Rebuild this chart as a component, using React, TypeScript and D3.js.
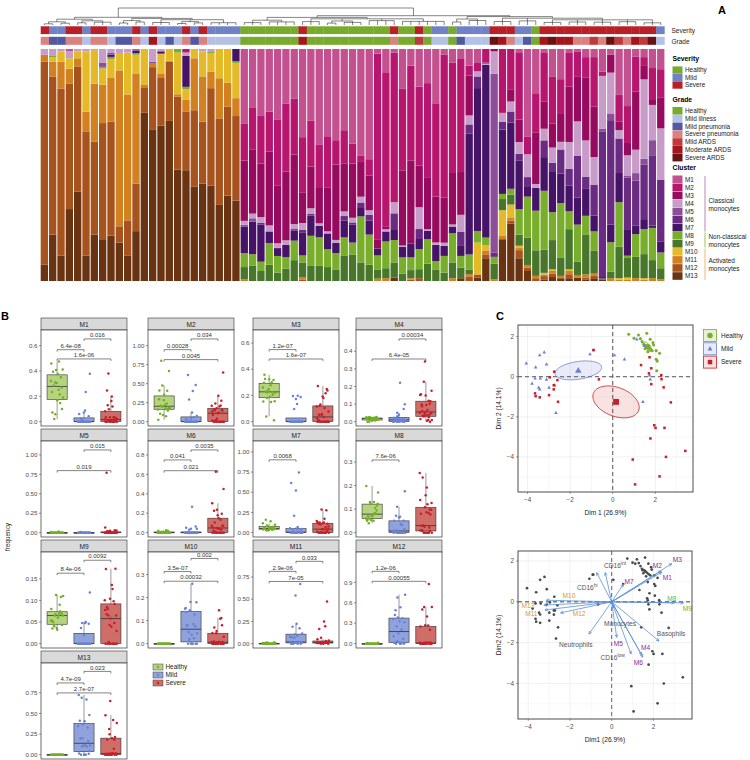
import React from "react";
import * as d3 from "d3";

// ================= DATA =================
const CLUSTERS = ["M1","M2","M3","M4","M5","M6","M7","M8","M9","M10","M11","M12","M13"];
const CLUSTER_COLORS = ["#c4518f","#b7166f","#960b5f","#c79cc8","#8c4e98","#6a2c83","#461467","#79ad2c","#48772b","#e5ba28","#d28020","#a6531e","#6a3413"];
const CLUSTER_GROUPS = [
  { lines: ["Classical", "monocytes"], from: 0, to: 6, color: "#c9a2cc" },
  { lines: ["Non-classical", "monocytes"], from: 7, to: 8, color: "#afd184" },
  { lines: ["Activated", "monocytes"], from: 9, to: 12, color: "#f0c894" },
];
const SEVERITY = ["Healthy", "Mild", "Severe"];
const SEVERITY_COLORS = ["#78ab2d", "#7181c5", "#b81f26"];
const GRADES = ["Healthy", "Mild illness", "Mild pneumonia", "Severe pneumonia", "Mild ARDS", "Moderate ARDS", "Severe ARDS"];
const GRADE_COLORS = ["#78ab2d", "#b3c1e7", "#5158a4", "#da8280", "#bf3a3d", "#a5161c", "#6a1111"];
const GRADE_SEVERITY = [0, 1, 1, 2, 2, 2, 2];

const SAMPLE_GRADE = [3,2,2,3,3,1,3,3,1,2,2,3,1,5,1,2,1,3,2,3,1,1,1,1,
  0,0,0,0,0,0,0,5,0,0,0,0,0,0,0,0,0,0,3,0,0,4,0,1,1,0,2,1,1,1,6,5,3,1,2,0,5,6,5,5,3,3,4,3,6,4,3,5,4,6,1];

// cluster composition per sample (M1..M13, %)
const COMPOSITION: number[][] = [
  [0,0,0,2.5,0,0,0,0,0,0,3,87.5,7],
  [0,0,0,3,0,0,0,0.5,0,2,6.5,68,20],
  [0,0,0,1,0,0,0,0,0,4.5,11.5,72,11],
  [1,0,0,3,0,0,0,0,0,4.5,6.5,54,31],
  [0,0,0,1,0,0,0,0,0,3,3.5,54,38.5],
  [0,0,0,1,0,0,0,0,0,26,8.5,53.5,11],
  [0,0,0,0.5,0,0,0,0,0,14.5,25,40,20],
  [0,0,0,6,1.7,0,0,0.7,0,7,16.5,50,18],
  [0,0,0,1.7,0.7,0,1,1,0,7.8,19,49,19.5],
  [0,0,0,1.7,0,0,0,0,0,7.5,67,7,16.5],
  [0,0,0,1.5,0,0,0,0,0,18,54,15,11],
  [0.6,0,0,0,0,0,1.2,0.7,0,8,47.5,20.5,21.5],
  [0,0,0,0,0,0,0,0,0,15.5,1,11,72.5],
  [0,0,0,5.5,0.8,0,0,0,0,0,1.5,27,65],
  [0,0,0,1,0,0,1,0,0,8.5,2,20.5,67],
  [0,0,0,0,0,0,0,0,0,5,0.5,25.5,69],
  [0,0,0,0,0,0,0,1.5,0,18,1,31.5,48],
  [0,1.5,0,1.5,0,0,13.3,1,0,4.6,5,25.3,47.7],
  [0,0,0,0,0,0,0,0,0,4,22.4,33,40.6],
  [0,0,0,1,0,0,0,0,0,10.8,19.5,26.7,42],
  [0,0,0,1,0,0,0,0.7,0,8,7.2,42,41.2],
  [0,0,0,0,0,0,0,0,0,12.6,17.3,37.3,32.8],
  [0,0,0,0,0,0,0,0,0,14.5,10.4,38.3,36.8],
  [0,0,0,0,0,0,5.3,0.7,0,15.2,7.7,36.4,34.7],
  [32,16,26,1.7,0.7,0,11.5,6,5.3,0,0.7,0,0],
  [25,18,27.6,2,1.4,0,14,5,6.5,0,0,0,0],
  [28.5,20.7,23,2.5,0,0.7,16,4,4.3,0,0,0,0],
  [27,17.3,31.8,2.6,0,0,5,9.4,7,0,0,0,0],
  [30.6,28.2,25,2,0,0.5,3,7.2,3.6,0,0,0,0],
  [23.4,29.3,29.6,2,0,0,5.2,5,5.3,0,0,0,0],
  [21.5,24,30,2.2,0,0.7,4.3,8.4,9,0,0,0,0],
  [38,24,13,3,0,1,10,3,6.5,0,1,0.5,0],
  [31,19.7,18,2.5,0,0.7,8.7,13,6.5,0,0,0,0],
  [41,18.4,15.6,1,0,0,5,12.3,6.5,0,0,0,0],
  [37.6,22,19,0.9,0,0,6.8,7.7,6,0,0,0,0],
  [39.3,10.5,32.5,1.2,0,0,4.5,7,5,0,0,0,0],
  [35,14.5,20.5,2,0,2,7.2,8,10.8,0,0,0,0],
  [40.8,8.7,23.4,2,0,1,7.7,5.3,11.3,0,0,0,0],
  [45.8,2.5,15.3,2.5,0,2,4,19.8,8,0,0,0,0],
  [47.5,7,15,2,0,2.5,6,13,7,0,0,0,0],
  [2,80,4,0,0,0,3,6,4,0,1,0,0],
  [10,66.5,1,1,0,0,4.3,11.5,4.3,0,1.2,0,0],
  [1.5,64.6,0,4.8,0,7.2,4.3,9.7,6.5,0,0,0,1.5],
  [17,35.4,32.5,0.5,0,0,4.6,7,3.2,0,0,0,0],
  [7.2,40.8,35.8,0,0,0,6,5.5,3.5,0,0.6,0.6,0],
  [16.2,34,18,9.4,0,4.3,4.3,8.7,3.9,0,0,1.2,0],
  [14.7,40.5,22.4,0.7,0,0,3.6,10.5,7.5,0,0,0,0],
  [23.4,40.2,19.8,1,0,0,7,3.6,5,0,0,0,0],
  [2.5,61.4,19.5,1.4,0,0,4.3,7.2,3.6,0,0,0,0],
  [5.8,47.7,22.2,0.9,0,0,2.9,12.6,6.8,0,1.2,0,0],
  [4.3,48.3,18.8,7.2,0,6.2,4.3,5,4.6,0,0,0,1.2],
  [7.2,4.3,17.3,3.9,0,3.9,52.5,6.5,2,0,1,2,0],
  [6,3.6,0,2.2,0,5,61.4,5,0,13.7,0,1.4,1.4],
  [0,5.8,0.5,0.5,0,0,74.4,3.2,0,2.3,1.7,1.7,9.8],
  [0,0,1,9.7,77,1.9,0,2.9,6.8,0,0.7,0,0],
  [0,27.5,0,3.9,0,3.3,27.7,2.2,4.8,11.1,1.4,0,18],
  [0,17.6,5,4.3,0,4.8,28.5,2.5,4.3,5.5,1.4,1.2,24.8],
  [1.4,29,9.7,5,0,2.9,21,11,4.8,1,0.9,3.5,9.8],
  [37.8,7.5,0,9.8,0,3.9,4.5,17.6,11.8,0,1.2,1.4,4.3],
  [19,17,22,1.7,0,0,9.8,17,11,0,1,1.2,0],
  [1.7,21,11.6,5,0,7.2,14.5,25.3,10,0.7,0.7,1.4,0.7],
  [12,20,10.4,6.6,0,3.9,17.3,12,12.6,0.7,1.2,1.4,1.7],
  [13,15,12,3.3,0,10.4,12.7,23.4,8,0,1,0,1.2],
  [1.7,14.5,23.8,11.6,0,7.2,11,7.7,17.3,0.7,1.4,1.7,1.2],
  [1,11,19.2,14.9,0,18,11.6,15.9,5.8,0,1.2,0,1.4],
  [3.5,8.7,27.2,15.6,0,5.3,11.6,8,17.3,0,1.4,0.7,0.7],
  [3.5,21.4,21.7,11.9,0,13.4,6.8,8.4,9.8,0,1,1,1.2],
  [9.7,1.9,0,22.7,1.4,62.6,0.6,0,0.4,0,0,0,0.7],
  [2.5,0,7.7,17.6,2.9,45,7.7,12.6,2.9,0,1.2,0,0],
  [19.8,11.6,3.6,3.6,0,14.9,12.6,19.2,13.6,0.6,0.6,0,0],
  [24.6,15.9,5.3,8.7,1,22.5,11.1,1,8.4,0.9,0.6,0,0],
  [3.2,15.2,25,10.1,3.2,19.5,3.6,9.8,9.2,0,1.2,0,0],
  [3.5,3.8,5.8,34.2,2.5,23.6,4.3,10.8,10.4,0.6,0.6,0,0],
  [8.2,13.4,2.5,15.2,6.5,30.3,1,13.9,7.8,0,1.2,0,0],
  [8.7,12.1,13.4,22.1,0,26.6,4.8,6.8,4.8,0,0.7,0,0],
];

// dendrogram: [height, ...children]; leaves = sample index
const DENDRO: any = [17,
  [7.7,
    [5.8, [3.2, [1.2, 0, 1], [1.8, 2, 3]], [4.2, [2.2, 4, 5], [2.8, 6, 7, 8]]],
    [6.6, [4.4, [2.0, 9, 10], [3.0, 11, 12]], [5.3, [2.5, 13, 14, 15], [3.4, [1.5, 16, 17], [2.1, 18, 19]], [2.3, 20, 21, 22, 23]]]],
  [9.3,
    [7.6, [4.8, [2.4, 24, 25, 26], [3.1, 27, 28, 29, 30]], [6.2, [3.4, 31, 32, 33], [4.0, [1.9, 34, 35], [2.6, 36, 37, 38]], [4.4, 39, 40, 41, 42], [3.6, 43, 44, 45, 46, 47, 48]]],
    [8.4, [6.0, [3.0, 49, 50], [4.5, 51, 52, 53]], [6.8, [3.5, 54, 55, 56], [4.1, 57, 58, 59], [5.2, [2.6, 60, 61, 62], [3.0, 63, 64, 65], [2.8, 66, 67, 68], [3.3, 69, 70, 71], [2.2, 72, 73, 74]]]]]];

// panel B axis settings per cluster
const B_YMAX = [0.689, 1.148, 0.666, 0.496, 1.123, 0.899, 1.081, 0.371, 0.202, 0.379, 0.983, 1.283, 1.059];
const B_TICK_STEP = [0.2, 0.25, 0.2, 0.1, 0.25, 0.2, 0.25, 0.1, 0.05, 0.1, 0.25, 0.3, 0.25];
const B_TICK_MAX = [0.6, 1, 0.6, 0.4, 1, 0.8, 1, 0.3, 0.15, 0.3, 0.75, 0.9, 0.75];
const B_DEC = [1, 2, 1, 1, 2, 1, 2, 1, 2, 1, 2, 1, 2];
// p-value brackets: [cluster, groupA, groupB, y, label]
const B_PVALS: [number, number, number, number, string][] = [
  [0, 1, 2, 0.653, "0.016"], [0, 0, 1, 0.568, "6.4e-08"], [0, 0, 2, 0.495, "1.6e-06"],
  [1, 1, 2, 1.088, "0.034"], [1, 0, 1, 0.947, "0.00028"], [1, 0, 2, 0.816, "0.0045"],
  [2, 0, 1, 0.55, "1.2e-07"], [2, 0, 2, 0.478, "1.6e-07"],
  [3, 1, 2, 0.47, "0.00034"], [3, 0, 2, 0.356, "6.4e-05"],
  [4, 1, 2, 1.064, "0.015"], [4, 0, 2, 0.798, "0.019"],
  [5, 1, 2, 0.852, "0.0035"], [5, 0, 1, 0.749, "0.041"], [5, 0, 2, 0.638, "0.021"],
  [6, 0, 1, 0.902, "0.0068"],
  [7, 0, 1, 0.309, "7.6e-06"],
  [8, 1, 2, 0.193, "0.0092"], [8, 0, 1, 0.163, "8.4e-06"],
  [9, 1, 2, 0.37, "0.002"], [9, 0, 1, 0.313, "3.5e-07"], [9, 0, 2, 0.271, "0.00032"],
  [10, 1, 2, 0.927, "0.033"], [10, 0, 1, 0.814, "2.9e-06"], [10, 0, 2, 0.70, "7e-05"],
  [11, 0, 1, 1.063, "1.2e-06"], [11, 0, 2, 0.916, "0.00055"],
  [12, 1, 2, 1.01, "0.023"], [12, 0, 1, 0.87, "4.7e-09"], [12, 0, 2, 0.749, "2.7e-07"],
];
const B_BOX_FILL = ["#b6d480", "#8fa2dc", "#cf6d68"];
const B_POINT = ["#74ae28", "#6a82d4", "#c61f2b"];

// panel C: PCA individual coordinates
const HEALTHY_PC = [[0.75,2.12],[1.21,2.08],[1.6,2.17],[1.0,1.92],[1.38,1.75],[1.45,1.62],[1.55,1.55],[1.62,1.48],[1.7,1.42],[1.78,1.35],[1.85,1.3],[1.52,1.4],[1.92,1.58],[2.04,1.3],[2.2,1.17],[2.04,0.87],[2.09,0.78],[2.07,0.3],[1.89,1.7],[1.76,1.87],[1.3,1.9],[1.65,1.25]];
const MILD_PC = [[-4.06,0.67],[-3.62,0.47],[-3.43,1.08],[-3.22,1.22],[-3.11,0.62],[-3.79,-0.33],[-3.65,-0.08],[-3.40,-0.08],[-3.48,-0.53],[-3.43,-0.62],[-3.11,-0.13],[-2.99,-0.53],[-2.72,-0.42],[-2.67,-1.8],[-1.07,1.13],[-0.88,1.33],[0.08,1.08],[0.55,0.87],[1.13,1.87],[1.42,-1.25],[1.73,0.08],[1.76,-0.12],[1.48,1.55],[1.6,1.5]];
const SEVERE_PC = [[-2.75,0.25],[-2.96,-0.03],[-2.6,-0.17],[-2.77,-0.42],[-2.77,-0.63],[-2.99,-0.92],[-3.65,-0.83],[-3.62,-0.97],[-3.43,-1.03],[-2.57,-1.25],[-0.91,1.33],[-0.65,-0.13],[1.33,0.58],[1.73,0.97],[1.70,0.17],[1.81,0.42],[1.81,-0.37],[2.28,0.08],[2.29,-0.12],[2.39,-0.53],[2.73,-1.28],[3.41,-3.7],[2.5,-4.0],[2.43,-2.55],[1.95,-2.42],[2.01,-2.55],[1.77,-3.08],[0.94,-4.13],[2.2,-4.97],[1.05,-5.37]];

// biplot variables: name, superscript, arrow end, group (0 classical,1 non-classical,2 activated,3 other)
const VARS: [string, string, number, number, number][] = [
  ["M1", "", 2.40, 1.45, 0], ["M2", "", 2.37, 1.51, 0], ["M3", "", 2.88, 1.87, 0],
  ["M4", "", 1.44, -2.6, 0], ["M5", "", 0.24, -1.74, 0], ["M6", "", 1.49, -2.71, 0], ["M7", "", 0.56, 0.86, 0],
  ["M8", "", 3.0, -0.05, 1], ["M9", "", 3.44, -0.05, 1],
  ["M10", "", -3.13, 0.08, 2], ["M11", "", -3.2, -0.4, 2], ["M12", "", -2.45, -0.54, 2], ["M13", "", -3.25, -0.16, 2],
  ["Basophils", "", 2.27, -1.92, 3], ["Neutrophils", "", -1.09, -1.58, 3], ["CD16", "low", 0.93, -2.55, 3],
  ["Monocytes", "", 0.1, -0.3, 3], ["CD16", "int", -0.31, 1.43, 3], ["CD16", "hi", -0.72, 1.43, 3],
];
const VAR_LABEL_POS = [[2.67,1.17],[2.19,1.76],[3.15,2.08],[1.63,-2.26],[0.32,-2.03],[1.28,-2.98],[0.83,0.99],
  [2.88,0.15],[3.63,-0.34],[-2.05,0.28],[-3.85,-0.6],[-1.56,-0.57],[-4.02,-0.19],
  [2.85,-1.56],[-1.72,-2.11],[0.05,-2.73],[0.4,-1.09],[0.16,1.79],[-1.17,0.70]];
const VAR_GROUP_COLORS = ["#8e2a8e", "#7aad2c", "#e0962a", "#555555"];

// ================= HELPERS =================
const FONT = "'Liberation Sans', Arial, Helvetica, sans-serif";

function dendroSegs(tree: any, xOf: (i: number) => number, yOf: (h: number) => number) {
  const segs: number[][] = [];
  function rec(t: any): { x: number; h: number } {
    if (typeof t === "number") return { x: xOf(t), h: 0 };
    const h = t[0];
    const kids = t.slice(1).map(rec);
    const xL = kids[0].x, xR = kids[kids.length - 1].x;
    for (const k of kids) segs.push([k.x, yOf(k.h), k.x, yOf(h)]);
    segs.push([xL, yOf(h), xR, yOf(h)]);
    return { x: (xL + xR) / 2, h };
  }
  rec(tree);
  return segs;
}

function ellipsePath(pts: number[][], sx: any, sy: any) {
  const n = pts.length;
  const mx = d3.mean(pts, (p) => p[0])!, my = d3.mean(pts, (p) => p[1])!;
  let a = 0, b = 0, d = 0;
  for (const p of pts) { a += (p[0] - mx) ** 2; b += (p[0] - mx) * (p[1] - my); d += (p[1] - my) ** 2; }
  a /= n - 1; b /= n - 1; d /= n - 1;
  const tr = (a + d) / 2, disc = Math.sqrt(((a - d) / 2) ** 2 + b * b);
  const l1 = tr + disc, l2 = Math.max(tr - disc, 1e-6);
  let v1 = Math.abs(b) > 1e-9 ? [b, l1 - a] : (a >= d ? [1, 0] : [0, 1]);
  const norm = Math.hypot(v1[0], v1[1]); v1 = [v1[0] / norm, v1[1] / norm];
  const v2 = [-v1[1], v1[0]];
  const k = 5.991 / n;
  const r1 = Math.sqrt(l1 * k), r2 = Math.sqrt(l2 * k);
  const ring = d3.range(0, 2 * Math.PI + 0.01, Math.PI / 40).map((t) => [
    sx(mx + r1 * Math.cos(t) * v1[0] + r2 * Math.sin(t) * v2[0]),
    sy(my + r1 * Math.cos(t) * v1[1] + r2 * Math.sin(t) * v2[1]),
  ] as [number, number]);
  return { path: d3.line()(ring)!, mx, my };
}

// ================= PANEL A =================
function PanelA() {
  const n = SAMPLE_GRADE.length;
  const x = d3.scaleBand<number>().domain(d3.range(n)).range([40.7, 664.4]).paddingInner(0.12);
  const xc = d3.scaleBand<number>().domain(d3.range(n)).range([40.7, 664.4]);
  const y = d3.scaleLinear().domain([0, 1]).range([281, 49]);
  const stack = d3.stack<number[], number>().keys(d3.range(13).reverse()).value((d, k) => d[k]).offset(d3.stackOffsetExpand);
  const series = stack(COMPOSITION);
  const hY = d3.scaleLinear().domain([0, 17]).range([25, 8]);
  const segs = dendroSegs(DENDRO, (i) => x(i)! + x.bandwidth() / 2, hY);
  const lx = 672.5;
  return (
    <g>
      <text x={718} y={14} fontSize={11} fontWeight="bold">A</text>
      {segs.map((s, i) => (
        <line key={i} x1={s[0]} y1={s[1]} x2={s[2]} y2={s[3]} stroke="#333" strokeWidth={0.6} />
      ))}
      {SAMPLE_GRADE.map((g, i) => (
        <g key={i}>
          <rect x={xc(i)!} y={26.3} width={xc.bandwidth() + 0.3} height={7.8} fill={SEVERITY_COLORS[GRADE_SEVERITY[g]]} />
          <rect x={xc(i)!} y={36.8} width={xc.bandwidth() + 0.3} height={8} fill={GRADE_COLORS[g]} />
        </g>
      ))}
      <text x={671.5} y={32.6} fontSize={6.5} fill="#222">Severity</text>
      <text x={671.5} y={43.5} fontSize={6.5} fill="#222">Grade</text>
      {series.map((s) => (
        <g key={s.key} fill={CLUSTER_COLORS[s.key as number]}>
          {s.map((d, i) => (
            <rect key={i} x={x(i)!} y={y(d[1])} width={x.bandwidth()} height={Math.max(0, y(d[0]) - y(d[1]))} />
          ))}
        </g>
      ))}
      {/* legend */}
      <text x={lx} y={60.6} fontSize={6.8} fontWeight="bold">Severity</text>
      {SEVERITY.map((s, i) => (
        <g key={s}>
          <rect x={lx} y={66.4 + i * 7.5} width={10} height={7.3} fill={SEVERITY_COLORS[i]} />
          <text x={685} y={72.4 + i * 7.5} fontSize={6.4} fill="#222">{s}</text>
        </g>
      ))}
      <text x={lx} y={102.4} fontSize={6.8} fontWeight="bold">Grade</text>
      {GRADES.map((s, i) => (
        <g key={s}>
          <rect x={lx} y={107 + i * 7.8} width={10} height={7.6} fill={GRADE_COLORS[i]} />
          <text x={685} y={113 + i * 7.8} fontSize={6.4} fill="#222">{s}</text>
        </g>
      ))}
      <text x={lx} y={170} fontSize={6.8} fontWeight="bold">Cluster</text>
      {CLUSTERS.map((s, i) => (
        <g key={s}>
          <rect x={lx} y={175.5 + i * 8.06} width={10} height={7.6} fill={CLUSTER_COLORS[i]} />
          <text x={685} y={181.6 + i * 8.06} fontSize={6.4} fill="#222">{s}</text>
        </g>
      ))}
      {CLUSTER_GROUPS.map((g) => {
        const y0 = 175.5 + g.from * 8.06 + 0.5, y1 = 175.5 + g.to * 8.06 + 7.6;
        const ym = (y0 + y1) / 2;
        return (
          <g key={g.lines[0]}>
            <line x1={705} x2={705} y1={y0} y2={y1} stroke={g.color} strokeWidth={1.3} />
            <text x={708.5} y={ym - 1} fontSize={6.4} fill="#222">{g.lines[0]}</text>
            <text x={708.5} y={ym + 7} fontSize={6.4} fill="#222">{g.lines[1]}</text>
          </g>
        );
      })}
    </g>
  );
}

// ================= PANEL B =================
const COL_X = [41, 148, 253, 356];
const STRIP_Y = [318, 429, 540, 651];

function Facet({ ci }: { ci: number }) {
  const col = ci % 4, row = Math.floor(ci / 4);
  const x0 = COL_X[col], w = 86;
  const sy = STRIP_Y[row], by0 = sy + 12, by1 = by0 + 96;
  const m = B_YMAX[ci];
  const y = d3.scaleLinear().domain([-0.05 * m, 1.05 * m]).range([by1, by0]);
  const xs = d3.scalePoint<number>().domain([0, 1, 2]).range([x0, x0 + w]).padding(0.6);
  const bw = xs.step() * 0.75;
  const ticks = d3.range(0, B_TICK_MAX[ci] + 1e-9, B_TICK_STEP[ci]);
  const fmt = d3.format(`.${B_DEC[ci]}f`);
  const groups = [0, 1, 2].map((g) => {
    const vals: number[] = [];
    COMPOSITION.forEach((row, s) => {
      if (GRADE_SEVERITY[SAMPLE_GRADE[s]] === g) vals.push(row[ci] / d3.sum(row));
    });
    const sorted = vals.slice().sort(d3.ascending);
    const q1 = d3.quantileSorted(sorted, 0.25)!, med = d3.quantileSorted(sorted, 0.5)!, q3 = d3.quantileSorted(sorted, 0.75)!;
    const iqr = q3 - q1;
    const lo = d3.min(sorted.filter((v) => v >= q1 - 1.5 * iqr))!;
    const hi = d3.max(sorted.filter((v) => v <= q3 + 1.5 * iqr))!;
    return { vals, q1, med, q3, lo, hi };
  });
  const pv = B_PVALS.filter((p) => p[0] === ci);
  return (
    <g>
      <rect x={x0} y={sy} width={w} height={12} fill="#d9d9d9" stroke="#333" strokeWidth={0.6} />
      <text x={x0 + w / 2} y={sy + 8.6} fontSize={6.6} textAnchor="middle" fill="#1a1a1a">{CLUSTERS[ci]}</text>
      <rect x={x0} y={by0} width={w} height={96} fill="#fff" stroke="#333" strokeWidth={0.7} />
      {ticks.map((t) => (
        <g key={t}>
          <line x1={x0 - 2} x2={x0} y1={y(t)} y2={y(t)} stroke="#333" strokeWidth={0.5} />
          <text x={x0 - 3.5} y={y(t) + 2.2} fontSize={6.2} textAnchor="end" fill="#4d4d4d">{fmt(t)}</text>
        </g>
      ))}
      {groups.map((g, gi) => {
        const cx = xs(gi)!;
        return (
          <g key={gi}>
            <line x1={cx} x2={cx} y1={y(g.hi)} y2={y(g.q3)} stroke="#555" strokeWidth={0.6} />
            <line x1={cx} x2={cx} y1={y(g.q1)} y2={y(g.lo)} stroke="#555" strokeWidth={0.6} />
            <rect x={cx - bw / 2} y={y(g.q3)} width={bw} height={Math.max(0.8, y(g.q1) - y(g.q3))} fill={B_BOX_FILL[gi]} stroke="#333" strokeWidth={0.6} />
            <line x1={cx - bw / 2} x2={cx + bw / 2} y1={y(g.med)} y2={y(g.med)} stroke="#333" strokeWidth={0.8} />
            {g.vals.map((v, k) => {
              const j = (((k * 0.6180339 + gi * 0.37) % 1) - 0.5) * 0.62 * bw;
              return <circle key={k} cx={cx + j} cy={y(v)} r={1.25} fill={B_POINT[gi]} />;
            })}
          </g>
        );
      })}
      {pv.map((p, i) => {
        const xa = xs(p[1])!, xb = xs(p[2])!, yy = y(p[3]);
        return (
          <g key={i}>
            <path d={`M${xa},${yy + 2}V${yy}H${xb}V${yy + 2}`} fill="none" stroke="#333" strokeWidth={0.6} />
            <text x={(xa + xb) / 2} y={yy - 1.8} fontSize={6} textAnchor="middle" fill="#333">{p[4]}</text>
          </g>
        );
      })}
    </g>
  );
}

function PanelB() {
  return (
    <g>
      <text x={1} y={320} fontSize={11} fontWeight="bold">B</text>
      <text transform="translate(9.5,537) rotate(-90)" fontSize={6.4} textAnchor="middle" fill="#222">frequency</text>
      {CLUSTERS.map((c, i) => <Facet key={c} ci={i} />)}
      {SEVERITY.map((s, i) => (
        <g key={s}>
          <rect x={153} y={664 + i * 8} width={10} height={6} fill={B_BOX_FILL[i]} stroke="#444" strokeWidth={0.5} />
          <circle cx={158} cy={667 + i * 8} r={1.2} fill={B_POINT[i]} />
          <text x={165.5} y={669.3 + i * 8} fontSize={6.4} fill="#222">{s}</text>
        </g>
      ))}
    </g>
  );
}

// ================= PANEL C =================
function Grid({ sx, sy, x0, x1, y0, y1 }: any) {
  const xs = d3.range(-4, 4);
  const ys = d3.range(-5, 3);
  return (
    <g>
      {xs.map((v) => sx(v) > x0 && sx(v) < x1 ? (
        <line key={"x" + v} x1={sx(v)} x2={sx(v)} y1={y0} y2={y1} stroke={v % 2 === 0 ? "#e6e6e6" : "#f2f2f2"} strokeWidth={0.6} />
      ) : null)}
      {ys.map((v) => sy(v) > y0 && sy(v) < y1 ? (
        <line key={"y" + v} x1={x0} x2={x1} y1={sy(v)} y2={sy(v)} stroke={v % 2 === 0 ? "#e6e6e6" : "#f2f2f2"} strokeWidth={0.6} />
      ) : null)}
    </g>
  );
}

function Axes({ sx, sy, x0, x1, y0, y1, xlab, ylab }: any) {
  return (
    <g>
      <rect x={x0} y={y0} width={x1 - x0} height={y1 - y0} fill="none" stroke="#3a3a3a" strokeWidth={0.9} />
      {[-4, -2, 0, 2].map((v) => (
        <g key={"xt" + v}>
          <line x1={sx(v)} x2={sx(v)} y1={y1} y2={y1 + 2} stroke="#444" strokeWidth={0.5} />
          <text x={sx(v)} y={y1 + 9.5} fontSize={6.3} textAnchor="middle" fill="#4d4d4d">{v < 0 ? "\u2212" + Math.abs(v) : v}</text>
        </g>
      ))}
      {[2, 0, -2, -4].map((v) => (
        <g key={"yt" + v}>
          <line x1={x0 - 2} x2={x0} y1={sy(v)} y2={sy(v)} stroke="#444" strokeWidth={0.5} />
          <text x={x0 - 4} y={sy(v) + 2.2} fontSize={6.3} textAnchor="end" fill="#4d4d4d">{v < 0 ? "\u2212" + Math.abs(v) : v}</text>
        </g>
      ))}
      <text x={(x0 + x1) / 2} y={y1 + 23} fontSize={6.6} textAnchor="middle" fill="#222">{xlab}</text>
      <text transform={`translate(${x0 - 17},${(y0 + y1) / 2}) rotate(-90)`} fontSize={6.6} textAnchor="middle" fill="#222">{ylab}</text>
    </g>
  );
}

const C_COLORS = ["#79ad2c", "#6d7fd0", "#c8202a"];
const C_FILLS = ["rgba(121,173,44,0.18)", "rgba(109,127,208,0.15)", "rgba(205,70,60,0.15)"];

function Shape({ kind, x, y, s, fill }: any) {
  if (kind === 0) return <circle cx={x} cy={y} r={s * 0.55} fill={fill} />;
  if (kind === 1) {
    const h = s * 0.9;
    return <path d={`M${x},${y - h * 0.6}L${x + h * 0.55},${y + h * 0.4}L${x - h * 0.55},${y + h * 0.4}Z`} fill={fill} />;
  }
  return <rect x={x - s * 0.45} y={y - s * 0.45} width={s * 0.9} height={s * 0.9} fill={fill} />;
}

function PanelCTop() {
  const x0 = 518, x1 = 693, y0 = 325, y1 = 492;
  const sx = d3.scaleLinear().domain([-4.45, 3.77]).range([x0, x1]);
  const sy = d3.scaleLinear().domain([-5.75, 2.58]).range([y1, y0]);
  const groups = [HEALTHY_PC, MILD_PC, SEVERE_PC];
  const ells = groups.map((g) => ellipsePath(g, sx, sy));
  return (
    <g>
      <text x={496} y={320} fontSize={11} fontWeight="bold">C</text>
      <rect x={x0} y={y0} width={x1 - x0} height={y1 - y0} fill="#fff" />
      <Grid sx={sx} sy={sy} x0={x0} x1={x1} y0={y0} y1={y1} />
      <line x1={sx(0)} x2={sx(0)} y1={y0} y2={y1} stroke="#555" strokeWidth={1} strokeDasharray="4,3" />
      <line x1={x0} x2={x1} y1={sy(0)} y2={sy(0)} stroke="#555" strokeWidth={1} strokeDasharray="4,3" />
      {ells.map((e, i) => (
        <path key={i} d={e.path} fill={C_FILLS[i]} stroke={C_COLORS[i]} strokeWidth={0.8} />
      ))}
      {groups.map((g, gi) => g.map((p, k) => (
        <Shape key={gi + "-" + k} kind={gi} x={sx(p[0])} y={sy(p[1])} s={gi === 0 ? 2.8 : gi === 1 ? 3.6 : 2.8} fill={C_COLORS[gi]} />
      )))}
      {ells.map((e, i) => (
        <Shape key={"m" + i} kind={i} x={sx(e.mx)} y={sy(e.my)} s={i === 0 ? 5 : 6.5} fill={C_COLORS[i]} />
      ))}
      <Axes sx={sx} sy={sy} x0={x0} x1={x1} y0={y0} y1={y1} xlab="Dim 1 (26.9%)" ylab="Dim 2 (14.1%)" />
      {SEVERITY.map((s, i) => (
        <g key={s}>
          <rect x={703.5} y={329.5 + i * 13.3} width={13} height={12} fill={C_FILLS[i]} stroke={C_COLORS[i]} strokeWidth={0.8} />
          <Shape kind={i} x={710} y={335.5 + i * 13.3} s={5} fill={C_COLORS[i]} />
          <text x={721} y={337.8 + i * 13.3} fontSize={6.5} fill="#222">{s}</text>
        </g>
      ))}
    </g>
  );
}

function PanelCBottom() {
  const x0 = 518, x1 = 692, y0 = 551, y1 = 719;
  const sx = d3.scaleLinear().domain([-4.49, 3.85]).range([x0, x1]);
  const sy = d3.scaleLinear().domain([-5.74, 2.49]).range([y1, y0]);
  const pts = [...HEALTHY_PC, ...MILD_PC, ...SEVERE_PC];
  return (
    <g>
      <rect x={x0} y={y0} width={x1 - x0} height={y1 - y0} fill="#fff" />
      <Grid sx={sx} sy={sy} x0={x0} x1={x1} y0={y0} y1={y1} />
      <line x1={sx(0)} x2={sx(0)} y1={y0} y2={y1} stroke="#666" strokeWidth={1} strokeDasharray="4,3" />
      <line x1={x0} x2={x1} y1={sy(0)} y2={sy(0)} stroke="#444" strokeWidth={1} strokeDasharray="4,3" />
      {pts.map((p, i) => <circle key={i} cx={sx(p[0])} cy={sy(p[1])} r={1.35} fill="#4a4a4a" />)}
      {VARS.map((v, i) => {
        const xa = sx(0), ya = sy(0), xb = sx(v[2]), yb = sy(v[3]);
        const ang = Math.atan2(yb - ya, xb - xa);
        const hl = 3.2, ha = 0.45;
        const p1 = [xb - hl * Math.cos(ang - ha), yb - hl * Math.sin(ang - ha)];
        const p2 = [xb - hl * Math.cos(ang + ha), yb - hl * Math.sin(ang + ha)];
        return (
          <g key={i} stroke="#5b8fd8" strokeWidth={0.8} fill="none">
            <line x1={xa} y1={ya} x2={xb} y2={yb} />
            <path d={`M${p1[0]},${p1[1]}L${xb},${yb}L${p2[0]},${p2[1]}`} />
          </g>
        );
      })}
      {VARS.map((v, i) => {
        const lp = VAR_LABEL_POS[i];
        return (
          <text key={"l" + i} x={sx(lp[0])} y={sy(lp[1]) + 2.3} fontSize={6.6} textAnchor="middle" fill={VAR_GROUP_COLORS[v[4]]}>
            {v[0]}
            {v[1] ? <tspan dy={-3} fontSize={5}>{v[1]}</tspan> : null}
          </text>
        );
      })}
      <Axes sx={sx} sy={sy} x0={x0} x1={x1} y0={y0} y1={y1} xlab="Dim1 (26.9%)" ylab="Dim2 (14.1%)" />
    </g>
  );
}

export default function App() {
  return (
    <svg width={750} height={760} style={{ position: "absolute", left: 0, top: 0, background: "#fff" }} fontFamily={FONT}>
      <rect x={0} y={0} width={750} height={760} fill="#fff" />
      <PanelA />
      <PanelB />
      <PanelCTop />
      <PanelCBottom />
    </svg>
  );
}
